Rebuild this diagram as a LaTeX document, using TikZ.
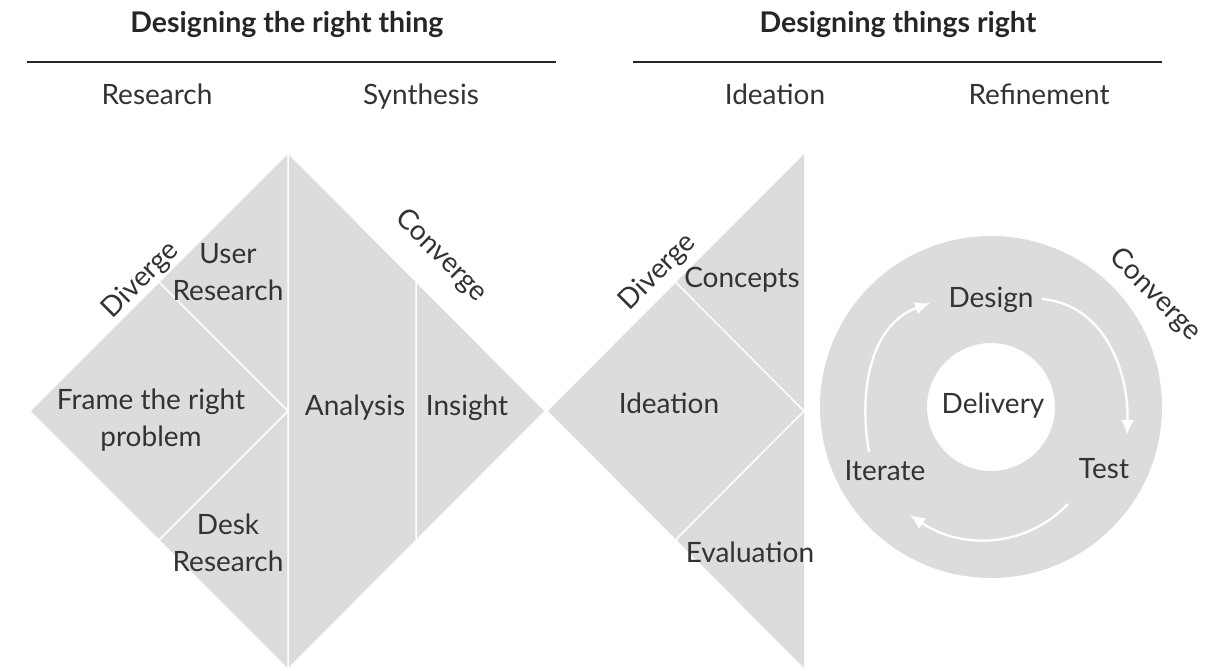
\documentclass[tikz,border=0pt]{standalone}
\usepackage{fontspec}
\setmainfont{Lato}
\usetikzlibrary{arrows.meta}
\definecolor{panel}{RGB}{220,220,220}
\definecolor{ink}{RGB}{51,51,51}

\begin{document}
\begin{tikzpicture}[x=1pt,y=1pt,
  lbl/.style={text=ink,font=\fontsize{28}{37}\selectfont,align=center,inner sep=0pt},
  head/.style={text=black!85,font=\fontsize{28.5}{31}\selectfont\bfseries,inner sep=0pt,anchor=base},
  cut/.style={white,line width=1.5pt},
  loop/.style={white,line width=2.3pt,-{Latex[length=15pt,width=13pt]}}]
\useasboundingbox (0,0) rectangle (1220,670);

% headings
\node[head] (thing) at (287,637) {Designing the right thing};
\node[head] (things) at (898,637) {Designing things right};
\draw[line width=2pt,black!85] (27,608)--(556,608) (633,608)--(1162,608);
\node[lbl,anchor=base] (research) at (157,565) {Research};
\node[lbl,anchor=base] (synthesis) at (421,565) {Synthesis};
\node[lbl,anchor=base] (ideation) at (775,565) {Ideation};
\node[lbl,anchor=base] (refinement) at (1039,565) {Refinement};

% first diamond
\fill[panel] (31,259)--(288,516)--(544,259)--(288,2)--cycle;
\draw[cut] (288,516)--(288,2)
  (159.5,387.5)--(288,259)--(159.5,130.5)
  (416,387.5)--(416,130.5);
\node[lbl,rotate=45] (div1) at (141,390) {Diverge};
\node[lbl,rotate=-45] (conv1) at (441,414) {Converge};
\node[lbl] (user) at (228,398) {User\\Research};
\node[lbl] (frame) at (151,250) {Frame the right\\problem};
\node[lbl] (desk) at (228,127) {Desk\\Research};
\node[lbl,anchor=base] (analysis) at (355,255) {Analysis};
\node[lbl,anchor=base] (insight) at (467,255) {Insight};

% half diamond
\fill[panel] (548,259)--(804,516)--(804,2)--cycle;
\draw[cut] (676,387.5)--(804,259)--(676,130.5);
\node[lbl,rotate=45] (div2) at (658,398) {Diverge};
\node[lbl,anchor=base] (concepts) at (742,382) {Concepts};
\node[lbl,anchor=base] (ideas) at (669,257) {Ideation};
\node[lbl,anchor=base] (evaluation) at (750,108) {Evaluation};

% delivery ring
\fill[panel,even odd rule] (991,263) circle (171) (991,263) circle (64);
\node[lbl,rotate=-45] (conv2) at (1155,375) {Converge};
\node[lbl,anchor=base] (delivery) at (993,257) {Delivery};
\node[lbl,anchor=base] (design) at (991,362) {Design};
\node[lbl,anchor=base] (test) at (1104,192) {Test};
\node[lbl,anchor=base] (iterate) at (885,190) {Iterate};
\coordinate (a1) at (1042,371);
\coordinate (a2) at (1127,235);
\coordinate (b1) at (1068,166);
\coordinate (b2) at (910,155);
\coordinate (c1) at (869,218);
\coordinate (c2) at (930,367);
\draw[loop] (a1) to[out=-5,in=88] (a2);
\draw[loop] (b1) to[out=-134,in=-34] (b2);
\draw[loop] (c1) to[out=100,in=200] (c2);
\end{tikzpicture}
\end{document}
